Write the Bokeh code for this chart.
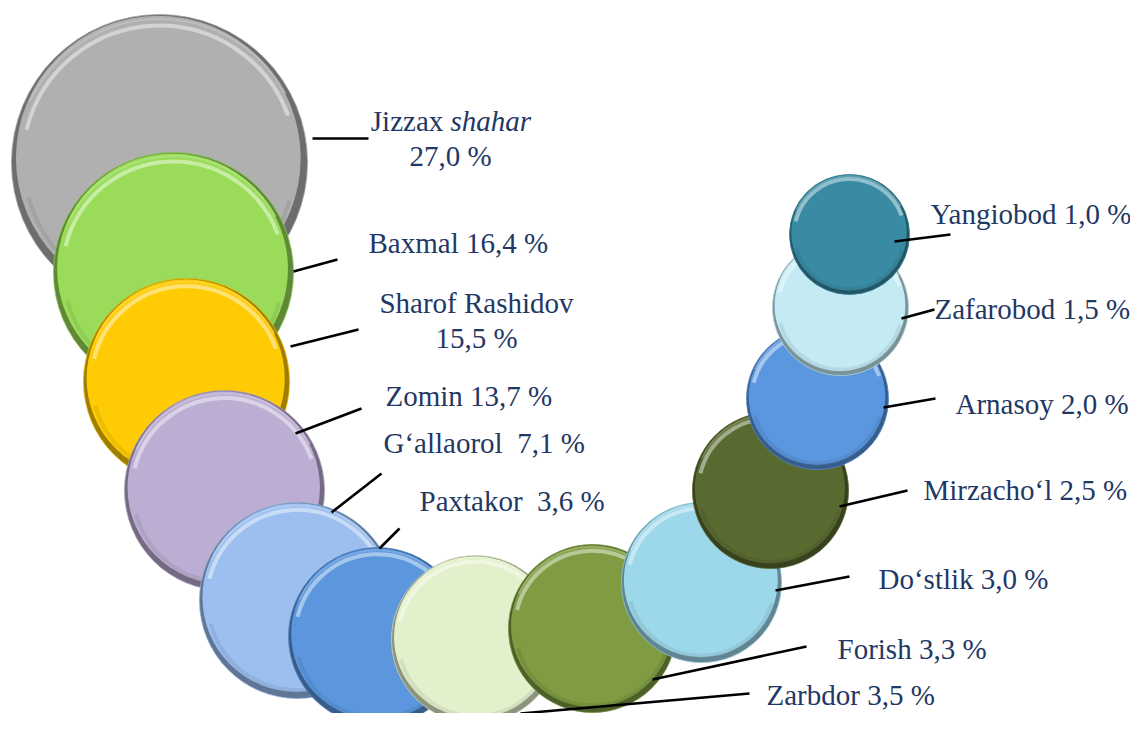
from bokeh.plotting import figure
from bokeh.models import Range1d
from bokeh.core.properties import value
from bokeh.embed import file_html
from bokeh.resources import INLINE

# ---- data ----
districts = ["Jizzax shahar", "Baxmal", "Sharof Rashidov", "Zomin", "G‘allaorol", "Paxtakor",
             "Zarbdor", "Forish", "Do‘stlik", "Mirzacho‘l", "Arnasoy", "Zafarobod", "Yangiobod"]
shares = [27.0, 16.4, 15.5, 13.7, 7.1, 3.6, 3.5, 3.3, 3.0, 2.5, 2.0, 1.5, 1.0]
# bubble centre and radius (chart coordinates)
bx = [159, 173, 186, 224, 297, 377, 475, 592, 701, 770, 817, 840, 849]
by = [162, 272, 381, 490, 600, 636, 639, 628, 582, 490, 398, 307, 234]
br = [148, 120, 103, 100, 98, 89, 84, 84, 80, 78, 71, 68, 60]
colors = ["#B0B0B0", "#9ADC5A", "#FFCB05", "#BCAED3", "#9CBFEF", "#5C97DE", "#E3F0CC",
          "#7F9C43", "#9DD8EA", "#596A30", "#5B97DF", "#C4EAF4", "#398BA3"]

# leader lines
lx0 = [312, 293, 290, 295, 331, 379, 520, 652, 775, 839, 883, 901, 894]
ly0 = [138, 271, 346, 433, 512, 548, 713, 679, 590, 506, 407, 318, 241]
lx1 = [368, 337, 358, 361, 381, 399, 749, 806, 849, 907, 935, 934, 950]
ly1 = [138, 259, 329, 408, 473, 528, 693, 646, 576, 490, 398, 309, 234]

# single-line labels (left aligned, baseline)
label_text = ["Baxmal 16,4 %", "Zomin 13,7 %", "G‘allaorol\u00a0 7,1 %", "Paxtakor\u00a0 3,6 %",
              "Zarbdor 3,5 %", "Forish 3,3 %", "Do‘stlik 3,0 %", "Mirzacho‘l 2,5 %",
              "Arnasoy 2,0 %", "Zafarobod 1,5 %", "Yangiobod 1,0 %"]
label_x = [368, 385, 383, 419, 766, 837, 878, 923, 955, 934, 930]
label_y = [252, 405, 452, 510, 704, 658, 588, 499, 413, 318, 223]

# centred labels
center_text = ["27,0 %", "Sharof Rashidov", "15,5 %"]
center_x = [450, 476, 476]
center_y = [165, 312, 347]

TXT = "#1F3864"
FONT = value("Liberation Serif")
FS = "29px"
SHIFT = -10  # renderer baseline correction


def shade(hexc, f):
    h = hexc.lstrip("#")
    r, g, b = (int(h[i:i + 2], 16) for i in (0, 2, 4))
    return "#%02x%02x%02x" % (int(r * f), int(g * f), int(b * f))


def tint(hexc, f):
    h = hexc.lstrip("#")
    r, g, b = (int(h[i:i + 2], 16) for i in (0, 2, 4))
    return "#%02x%02x%02x" % (int(r + (255 - r) * f), int(g + (255 - g) * f), int(b + (255 - b) * f))


p = figure(width=1130, height=713, x_range=Range1d(0, 1130), y_range=Range1d(713, 0),
           output_backend="svg", toolbar_location=None, min_border=0)
p.axis.visible = False
p.grid.visible = False
p.outline_line_color = None
p.background_fill_color = "white"
p.border_fill_color = "white"

for i in range(len(districts)):
    x, y, r, c = bx[i], by[i], br[i], colors[i]
    # rim (darker toward the bottom)
    p.circle(x=[x], y=[y], radius=r, fill_color=shade(c, 0.62), line_color=shade(c, 0.9),
             line_width=0.8)
    # face
    p.circle(x=[x - 0.008 * r], y=[y - 0.03 * r], radius=0.962 * r, fill_color=c, line_color=None)
    # soft bottom shading inside rim
    p.arc(x=[x], y=[y], radius=0.915 * r, start_angle=3.4, end_angle=6.0,
          line_color=shade(c, 0.8), line_width=4, line_alpha=0.35)
    # top highlight bands
    p.arc(x=[x], y=[y], radius=0.925 * r, start_angle=0.35, end_angle=2.9,
          line_color=tint(c, 0.6), line_width=4, line_alpha=0.75)
    p.arc(x=[x], y=[y], radius=0.97 * r, start_angle=0.5, end_angle=2.7,
          line_color=tint(c, 0.3), line_width=2, line_alpha=0.6)

p.segment(x0=lx0, y0=ly0, x1=lx1, y1=ly1, line_color="black", line_width=2.6)

p.text(x=label_x, y=[v + SHIFT for v in label_y], text=label_text, text_font=FONT,
       text_font_size=FS, text_color=TXT, text_align="left", text_baseline="alphabetic")
p.text(x=center_x, y=[v + SHIFT for v in center_y], text=center_text, text_font=FONT,
       text_font_size=FS, text_color=TXT, text_align="center", text_baseline="alphabetic")
# Jizzax shahar (mixed style)
p.text(x=[450], y=[130 + SHIFT], text=["Jizzax\u00a0"], text_font=FONT, text_font_size=FS,
       text_color=TXT, text_align="right", text_baseline="alphabetic")
p.text(x=[450], y=[130 + SHIFT], text=["shahar"], text_font=FONT, text_font_size=FS,
       text_font_style="italic", text_color=TXT, text_align="left", text_baseline="alphabetic")

open("out.html", "w").write(file_html(p, INLINE))
